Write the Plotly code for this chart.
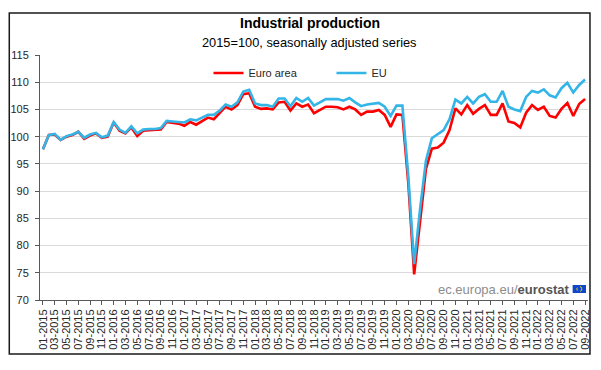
import plotly.graph_objects as go

years = list(range(2015, 2023))
months = [f"{m:02d}-{y}" for y in years for m in range(1, 13)][:93]

euro_area = [
    97.7, 100.3, 100.4, 99.4, 100.0, 100.3, 100.9, 99.6, 100.2, 100.6, 99.8, 100.0,
    102.6, 101.1, 100.6, 101.7, 100.1, 101.1, 101.2, 101.2, 101.3, 102.7, 102.5, 102.4,
    102.0, 102.7, 102.2, 102.8, 103.5, 103.2, 104.3, 105.5, 105.0, 105.8, 107.8, 108.0,
    105.5, 105.1, 105.2, 105.0, 106.3, 106.4, 104.8, 106.1, 105.5, 105.9, 104.3, 104.9,
    105.5, 105.5, 105.4, 105.0, 105.5, 105.0, 104.0, 104.6, 104.6, 104.9, 104.0, 101.8,
    104.1, 104.0, 91.5, 74.7, 84.6, 94.1, 97.8, 98.0, 98.9, 101.2, 105.2, 104.1,
    105.8, 104.2, 105.1, 105.8, 104.0, 104.0, 106.1, 102.8, 102.5, 101.7, 104.4, 105.8,
    104.9, 105.5, 103.8, 103.5, 105.1, 106.2, 103.8, 106.0, 106.9,
]
eu = [
    97.7, 100.3, 100.5, 99.4, 100.1, 100.4, 100.9, 99.8, 100.4, 100.7, 99.9, 100.2,
    102.7, 101.3, 100.7, 101.9, 100.6, 101.3, 101.4, 101.4, 101.6, 102.9, 102.8, 102.7,
    102.6, 103.2, 103.0, 103.5, 104.0, 104.0, 104.8, 105.9, 105.5, 106.3, 108.3, 108.6,
    106.1, 105.8, 105.8, 105.5, 107.0, 107.0, 105.6, 107.1, 106.4, 107.1, 105.7, 106.3,
    106.9, 106.9, 106.9, 106.6, 107.1, 106.3, 105.6, 105.9, 106.0, 106.2, 105.5, 103.8,
    105.7, 105.7, 92.8, 76.6, 86.7, 95.6, 99.7, 100.5, 101.2, 103.2, 106.8, 106.1,
    107.3, 106.1, 107.3, 107.8, 106.4, 106.4, 108.4, 105.5, 105.0, 104.7, 107.3, 108.4,
    108.1, 108.7, 107.6, 107.2, 108.9, 109.9, 108.1, 109.5, 110.5,
]
y_ticks = [70, 75, 80, 85, 90, 95, 100, 105, 110, 115]
x_ticks = months[::2]

title = "Industrial production"
subtitle = "2015=100, seasonally adjusted series"

W, H = 601, 370
L, R, T, B = 38, 10, 55, 70
pw, ph = W - L - R, H - T - B

def px(x):
    return (x - L) / pw

def py(y):
    return (H - B - y) / ph

font = "Liberation Sans, Arial, sans-serif"

fig = go.Figure()
fig.add_trace(go.Scatter(x=months, y=euro_area, name="Euro area", mode="lines",
                         line=dict(color="#ff0000", width=2.6)))
fig.add_trace(go.Scatter(x=months, y=eu, name="EU", mode="lines",
                         line=dict(color="#33b5e8", width=2.6)))

fig.update_layout(
    width=W, height=H, autosize=False,
    margin=dict(l=L, r=R, t=T, b=B),
    paper_bgcolor="white", plot_bgcolor="white",
    font=dict(family=font, size=11, color="#262626"),
    showlegend=True,
    legend=dict(orientation="h", x=px(208), xanchor="left", y=py(73), yanchor="middle",
                font=dict(size=11, color="#262626"), bgcolor="rgba(0,0,0,0)",
                entrywidth=78, entrywidthmode="pixels", traceorder="normal"),
    xaxis=dict(type="category", range=[-0.5, 92.5], tickmode="array", tickvals=x_ticks,
               ticktext=x_ticks, tickangle=-90, showgrid=False, showline=True,
               linecolor="#595959", linewidth=1, ticks="outside", ticklen=4,
               tickcolor="#595959", tickfont=dict(size=11, color="#262626"), zeroline=False),
    yaxis=dict(range=[70, 115], tickmode="array", tickvals=y_ticks, showgrid=True,
               gridcolor="#d9d9d9", gridwidth=1.3, showline=True, linecolor="#595959",
               linewidth=1, ticks="outside", ticklen=4, tickcolor="#595959",
               ticklabelstandoff=4,
               tickfont=dict(size=11, color="#262626"), zeroline=False),
)

fig.add_annotation(text=f"<b>{title}</b>", x=px(310), y=py(23), xref="paper", yref="paper",
                   showarrow=False, font=dict(size=14, color="#000000"), xanchor="center", yanchor="middle")
fig.add_annotation(text=subtitle, x=px(310), y=py(42), xref="paper", yref="paper",
                   showarrow=False, font=dict(size=12.8, color="#000000"), xanchor="center", yanchor="middle")
fig.add_annotation(text='ec.europa.eu/<b><span style="color:#555555">eurostat</span></b>',
                   x=px(574), y=py(289), xref="paper", yref="paper", showarrow=False,
                   font=dict(size=13, color="#8c8c8c"), xanchor="right", yanchor="middle")

# frame
fig.add_shape(type="rect", xref="paper", yref="paper", x0=px(7), x1=px(593), y0=py(354), y1=py(13),
              line=dict(color="#1a1a1a", width=1.5), fillcolor="rgba(0,0,0,0)", layer="above")
# EU flag
fig.add_shape(type="rect", xref="paper", yref="paper", x0=px(575.5), x1=px(589), y0=py(293), y1=py(285),
              line=dict(width=0), fillcolor="#0e47cb", layer="above")
fig.add_shape(type="circle", xref="paper", yref="paper", x0=px(579.8), x1=px(584.8), y0=py(291.5), y1=py(286.5),
              line=dict(color="#ffde00", width=1, dash="dot"), fillcolor="rgba(0,0,0,0)", layer="above")

fig.write_html("out.html", config={"displayModeBar": False},
               post_script="document.body.style.margin='0';document.body.style.overflow='hidden';")
